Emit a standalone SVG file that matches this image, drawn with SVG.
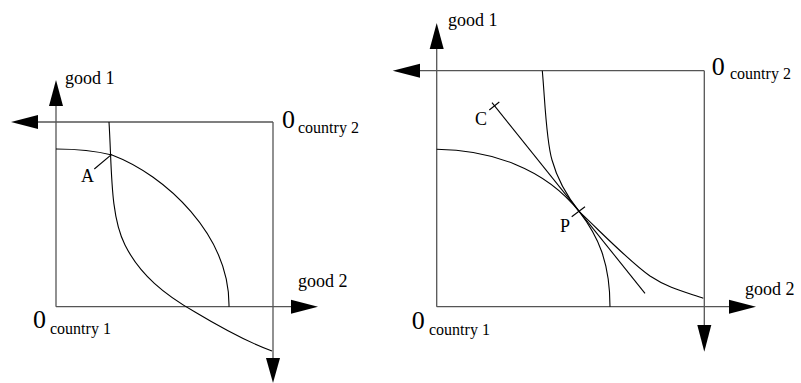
<svg xmlns="http://www.w3.org/2000/svg" width="801" height="383" viewBox="0 0 801 383">
<style>
.ax{stroke:#555;stroke-width:1.3;fill:none}
.cv{stroke:#000;stroke-width:1.1;fill:none}
.ah{fill:#000}
.t{font-family:'Liberation Serif','Times New Roman',serif;fill:#000}
.lb{font-size:18px}
.zero{font-size:26px}
.sub{font-size:16px}
</style>
<g id="left-diagram">
  <g id="left-axes">
    <line class="ax" x1="56" y1="95" x2="56" y2="306.7"/>
    <line class="ax" x1="25" y1="122" x2="273" y2="122"/>
    <line class="ax" x1="273" y1="122" x2="273" y2="370"/>
    <line class="ax" x1="56" y1="306.7" x2="305" y2="306.7"/>
    <polygon class="ah" points="56,80 49,106 63,106"/>
    <polygon class="ah" points="11,122 38,115 38,129"/>
    <polygon class="ah" points="273,383 266,358 280,358"/>
    <polygon class="ah" points="318,306.7 291,299.7 291,313.7"/>
  </g>
  <g id="left-curves">
    <path class="cv" d="M56,149 C80,149 100,152 112,155 C165,175 230,235 229,306.7"/>
    <path class="cv" d="M109,122 C112,170 110,215 125,245 C140,275 165,295 195,312 C225,330 250,343 272,351"/>
    <line class="cv" x1="94.3" y1="169" x2="111.7" y2="154.3"/>
  </g>
  <g id="left-labels" class="t" font-family="Liberation Serif, Times New Roman, serif">
    <text class="lb" x="65" y="84">good 1</text>
    <text class="lb" x="298" y="287">good 2</text>
    <text class="lb" x="81" y="182">A</text>
    <text class="zero" x="282" y="128">0</text>
    <text class="sub" x="298" y="133">country 2</text>
    <text class="zero" x="33" y="328">0</text>
    <text class="sub" x="50" y="334">country 1</text>
  </g>
</g>
<g id="right-diagram">
  <g id="right-axes">
    <line class="ax" x1="436.7" y1="40" x2="436.7" y2="306.7"/>
    <line class="ax" x1="405" y1="70.7" x2="704.3" y2="70.7"/>
    <line class="ax" x1="704.3" y1="70.7" x2="704.3" y2="335"/>
    <line class="ax" x1="436.7" y1="306.7" x2="740" y2="306.7"/>
    <polygon class="ah" points="436.7,23 429.7,49 443.7,49"/>
    <polygon class="ah" points="392.7,70.7 420,63.7 420,77.7"/>
    <polygon class="ah" points="704.3,351.7 697.3,325 711.3,325"/>
    <polygon class="ah" points="756,306.7 729,299.7 729,313.7"/>
  </g>
  <g id="right-curves">
    <path class="cv" d="M436.7,149.3 C490,150 544.3,167.4 579.3,211.7 C605,236 630,262 650,276 C668,288 685,292 703.3,298.3"/>
    <path class="cv" d="M542.3,70.7 C545,100 546,140 552,160 C558,182 570,200 579.3,211.7 C598,236 610,262 610,306.7"/>
    <line class="cv" x1="492" y1="102.7" x2="645" y2="293.3"/>
    <line class="cv" x1="489.3" y1="110" x2="499.3" y2="102"/>
    <line class="cv" x1="571.7" y1="216.7" x2="585" y2="206.7"/>
  </g>
  <g id="right-labels" class="t" font-family="Liberation Serif, Times New Roman, serif">
    <text class="lb" x="448" y="26">good 1</text>
    <text class="lb" x="745" y="295">good 2</text>
    <text class="lb" x="475" y="125">C</text>
    <text class="lb" x="560" y="232">P</text>
    <text class="zero" x="711.7" y="75">0</text>
    <text class="sub" x="730" y="79">country 2</text>
    <text class="zero" x="411.7" y="329">0</text>
    <text class="sub" x="429" y="335">country 1</text>
  </g>
</g>
</svg>
